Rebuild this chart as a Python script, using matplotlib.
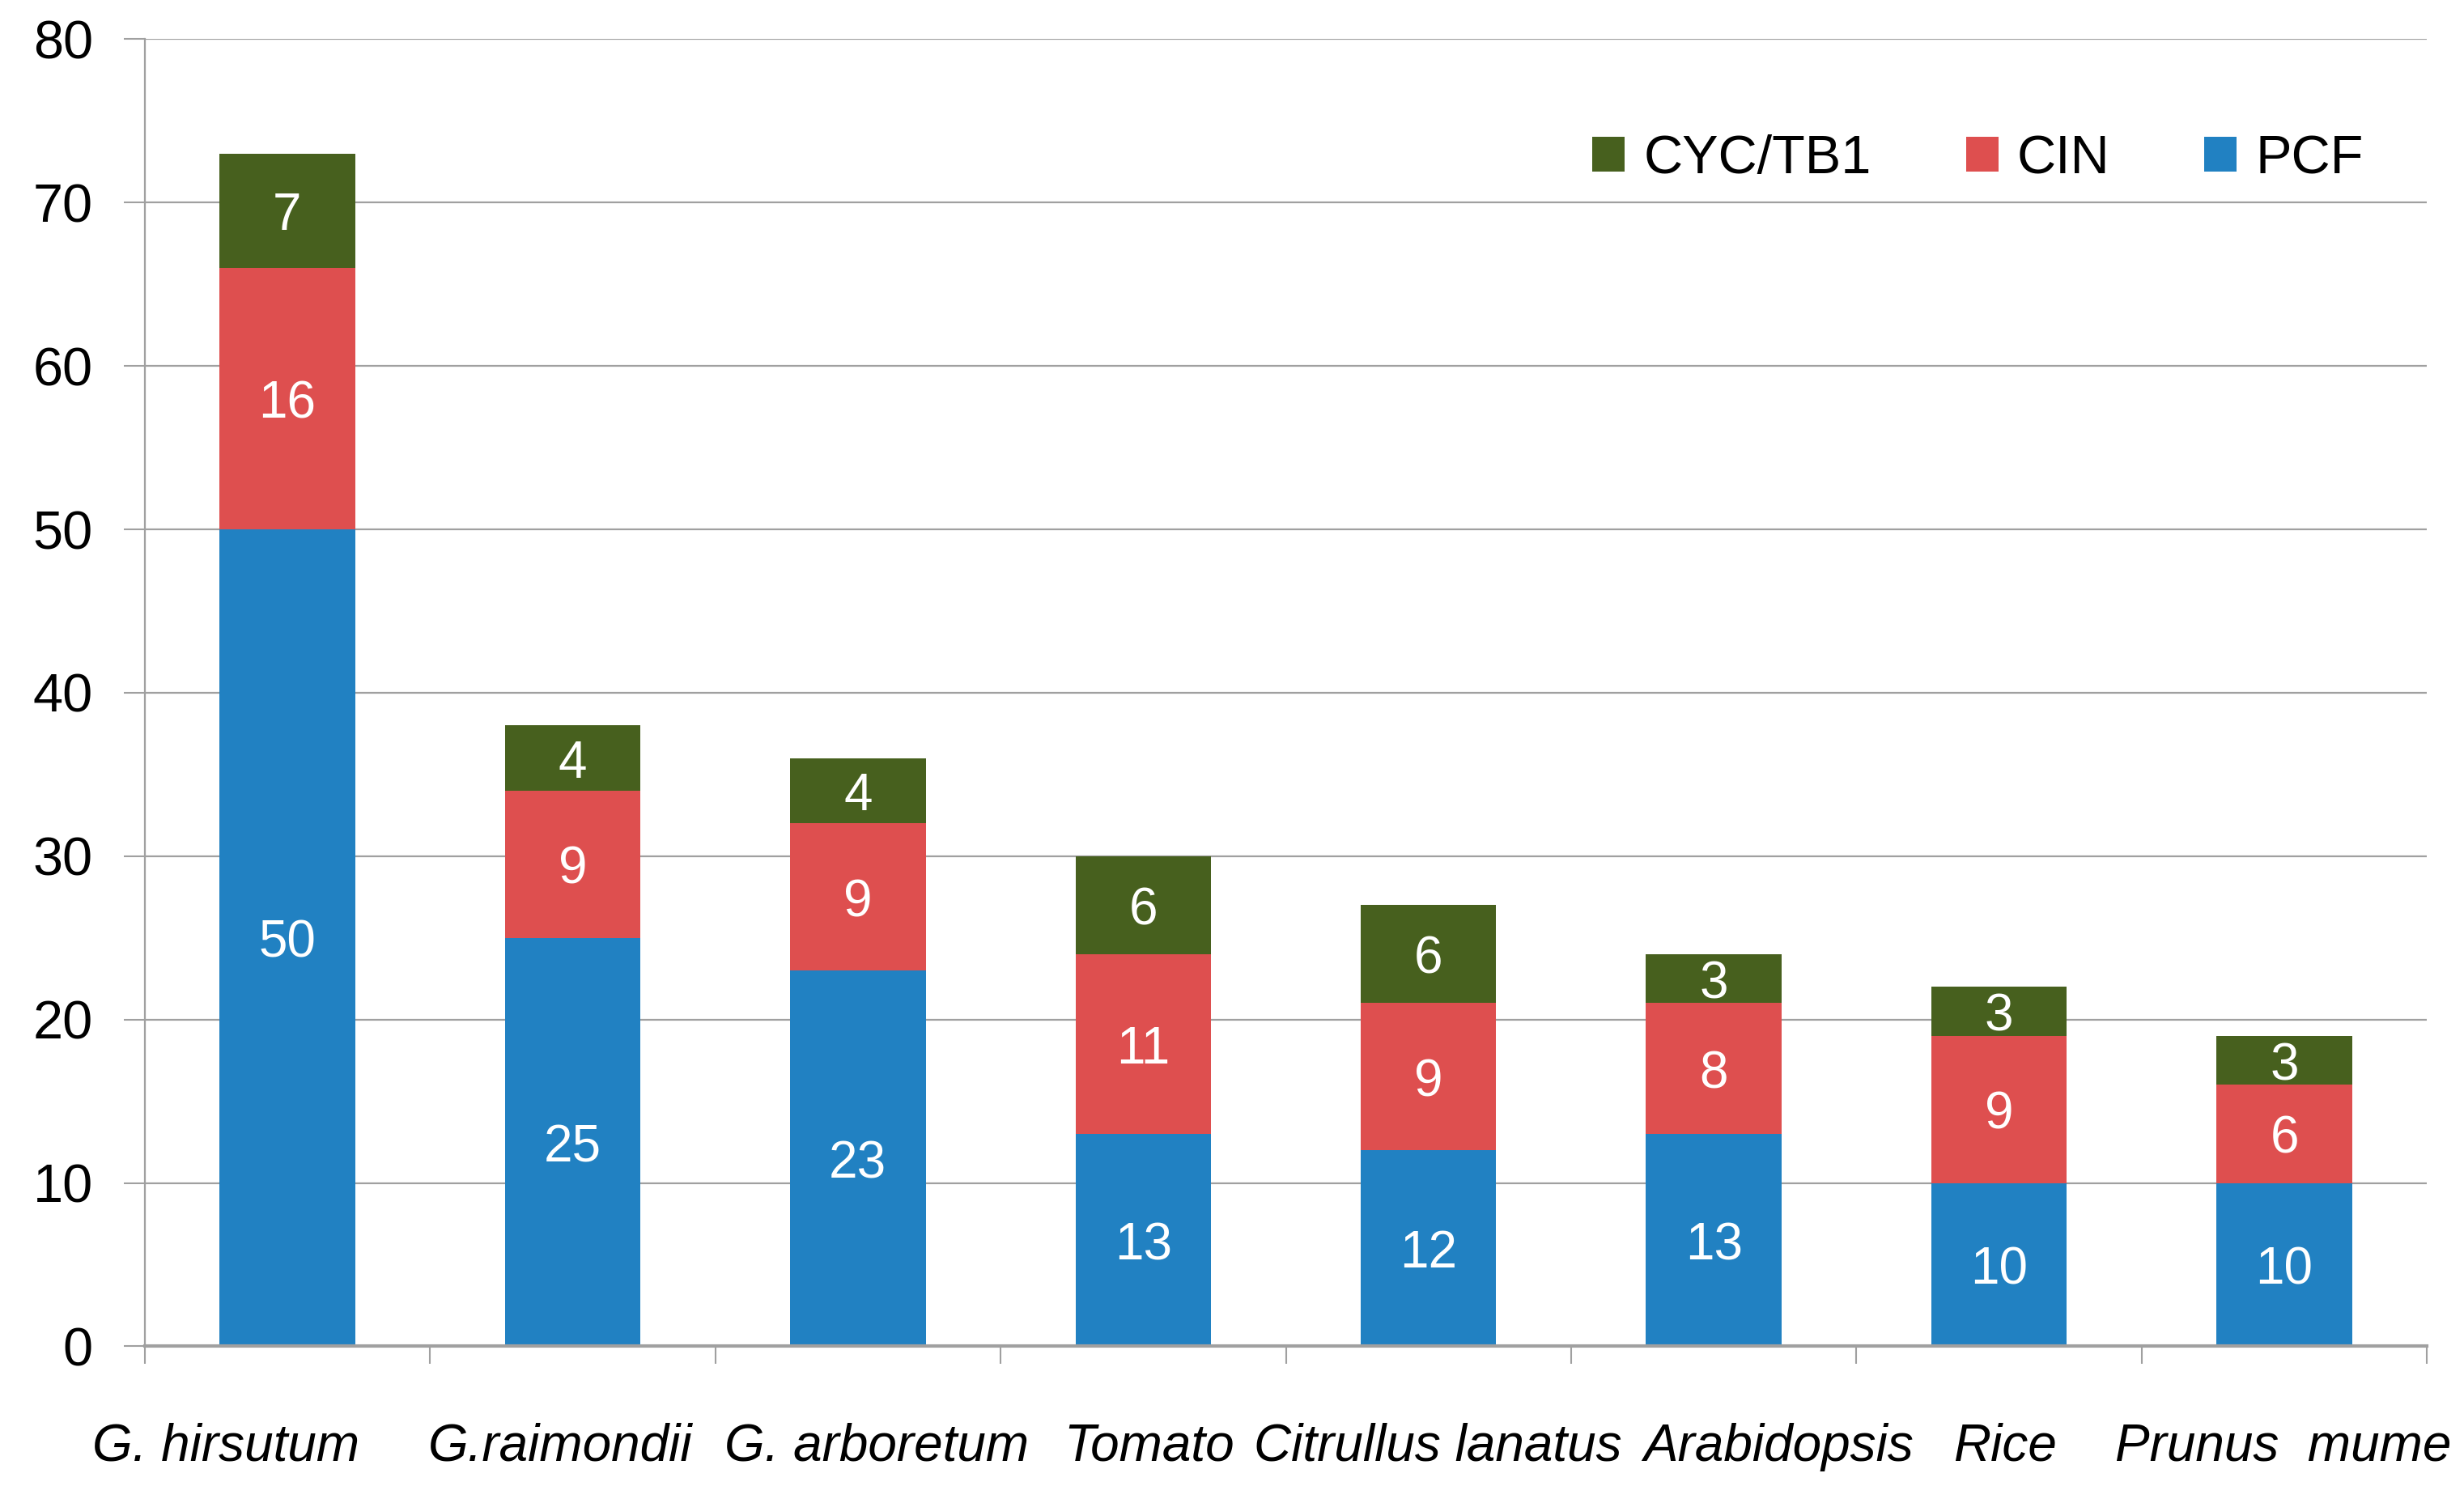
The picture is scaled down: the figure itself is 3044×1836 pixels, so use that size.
import numpy as np
import matplotlib.pyplot as plt
import matplotlib.transforms as mtransforms

species = ["G. hirsutum", "G.raimondii", "G. arboretum", "Tomato",
           "Citrullus lanatus", "Arabidopsis", "Rice", "Prunus  mume"]
pcf = [50, 25, 23, 13, 12, 13, 10, 10]
cin = [16, 9, 9, 11, 9, 8, 9, 6]
cyc = [7, 4, 4, 6, 6, 3, 3, 3]

# horizontal nudge of each category label, in category widths (as in the original)
label_shift = [-0.215, -0.044, 0.066, 0.022, 0.033, 0.226, 0.022, -0.005]

col_pcf = "#2181C2"
col_cin = "#DE4F4F"
col_cyc = "#47601E"
grey = "#A0A0A0"

plt.rcParams['font.family'] = ['Liberation Sans', 'DejaVu Sans']

fig = plt.figure(figsize=(30.44, 18.36), dpi=100)
ax = fig.add_axes([0.0587, 0.094, 0.985 - 0.0587, 0.9736 - 0.094])

x = np.arange(len(species))
w = 0.475
bottom2 = np.array(pcf)
bottom3 = bottom2 + np.array(cin)

b1 = ax.bar(x, pcf, w, color=col_pcf, label="PCF", zorder=3)
b2 = ax.bar(x, cin, w, bottom=bottom2, color=col_cin, label="CIN", zorder=3)
b3 = ax.bar(x, cyc, w, bottom=bottom3, color=col_cyc, label="CYC/TB1", zorder=3)

for vals, bots in ((pcf, np.zeros(len(x))), (cin, bottom2), (cyc, bottom3)):
    for xi, v, b in zip(x, vals, bots):
        ax.annotate(str(v), (xi, b + v / 2), xytext=(0, -5), textcoords="offset points",
                    ha="center", va="center", color="white", fontsize=46, zorder=5)

ax.set_xlim(-0.5, len(species) - 0.5)
ax.set_ylim(0, 80)
ax.set_yticks(range(0, 81, 10))
ax.tick_params(axis="y", labelsize=48, length=19, width=1.5, color=grey, pad=27)
ax.grid(axis="y", color=grey, linewidth=1.6, zorder=0)

ax.set_xticks(x)
ax.set_xticklabels(species, fontsize=46, style="italic")
ax.tick_params(axis="x", length=0, pad=68)
ax.set_xticks(np.arange(-0.5, len(species), 1), minor=True)
ax.tick_params(axis="x", which="minor", length=16, width=1.5, color=grey)

slot_px = ax.get_position().width * fig.bbox.width / len(species)
for lab, s in zip(ax.get_xticklabels(), label_shift):
    off = mtransforms.ScaledTranslation(s * slot_px / fig.dpi, 0, fig.dpi_scale_trans)
    lab.set_transform(lab.get_transform() + off)

for s in ("top", "right"):
    ax.spines[s].set_visible(False)
ax.spines["left"].set_color(grey)
ax.spines["left"].set_linewidth(1.6)
ax.spines["bottom"].set_color(grey)
ax.spines["bottom"].set_linewidth(3)
ax.spines["bottom"].set_zorder(4)

handles = [b3, b2, b1]
ax.legend(handles, [h.get_label() for h in handles], ncol=3, frameon=False,
          fontsize=48, loc="center left", bbox_to_anchor=(0.613, 0.908),
          handlelength=0.6, handleheight=0.6, handletextpad=0.35,
          columnspacing=1.75)

fig.savefig("out.png", dpi=100)
